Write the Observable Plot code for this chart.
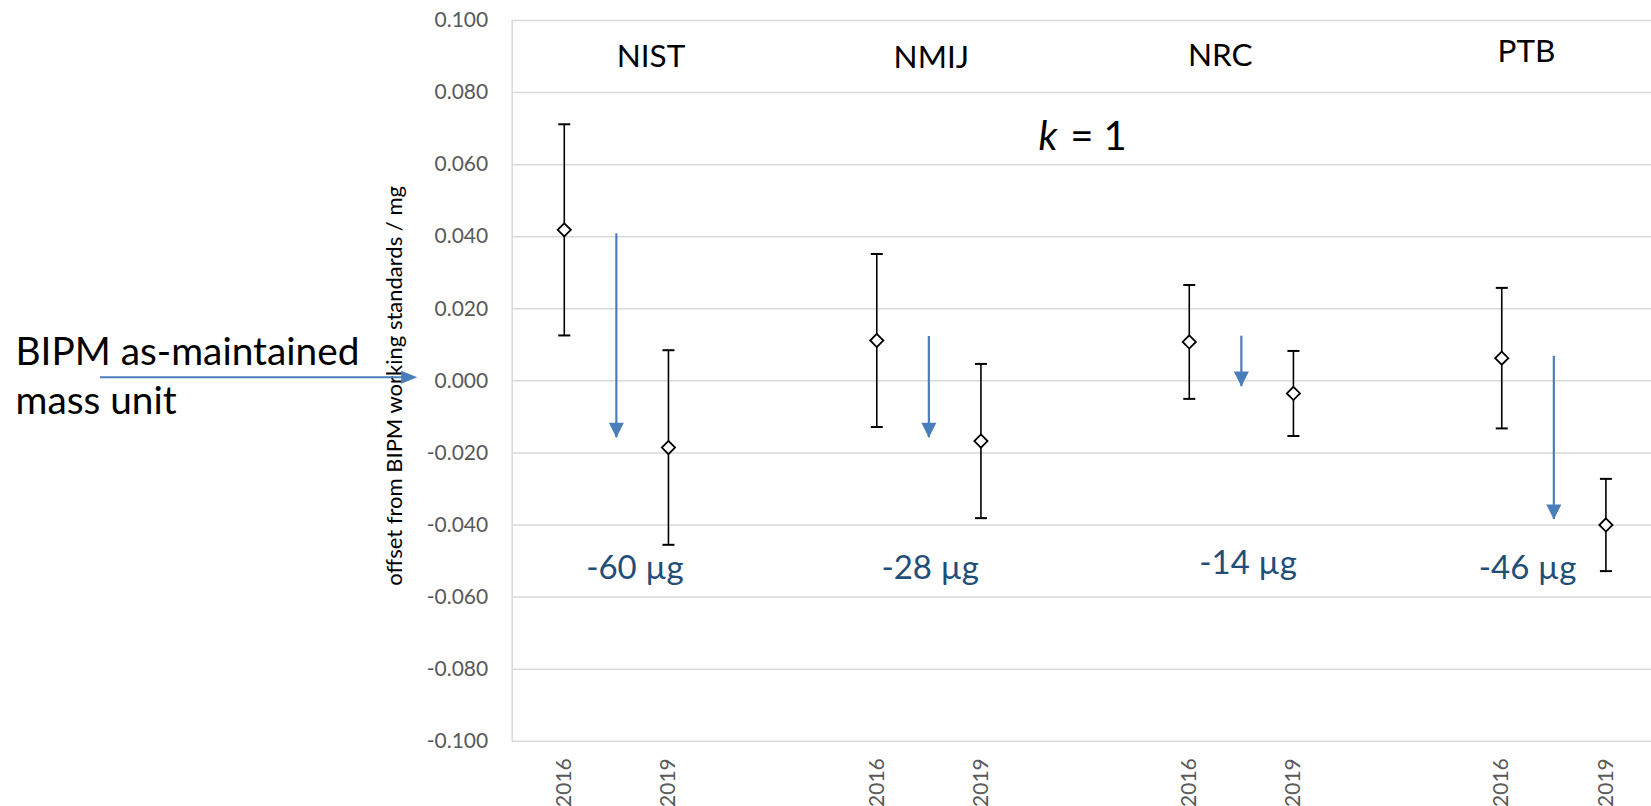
<!DOCTYPE html>
<html><head><meta charset="utf-8">
<script src="https://cdn.jsdelivr.net/npm/d3@7"></script>
<script src="https://cdn.jsdelivr.net/npm/@observablehq/plot@0.6"></script>
<style>
html,body{margin:0;padding:0;background:#fff;overflow:hidden;}
#chart svg{display:block;}
</style></head><body><div id="chart"></div>
<script>
// ---- data ----
const institutes = ["NIST", "NMIJ", "NRC", "PTB"];
const years = [2016, 2019];
const offset2016 = [0.0419, 0.0112, 0.0108, 0.0063];
const uncertainty2016 = [0.0293, 0.0240, 0.0158, 0.0195];
const offset2019 = [-0.0185, -0.0167, -0.0035, -0.0400];
const uncertainty2019 = [0.0270, 0.0214, 0.0118, 0.0128];
const shiftStart = [0.0408, 0.0123, 0.0124, 0.0068];
const shiftEnd = [-0.0158, -0.0158, -0.0016, -0.0385];
const shiftLabels = ["-60 µg", "-28 µg", "-14 µg", "-46 µg"];
const yTickValues = [-0.100, -0.080, -0.060, -0.040, -0.020, 0.000, 0.020, 0.040, 0.060, 0.080, 0.100];
const yTitle = "offset from BIPM working standards / mg";
const unitLabel = "BIPM as-maintained\nmass unit";

// ---- layout (slot positions on the x scale; annotations) ----
const groupSize = 6;
const slot = (i, k) => i * groupSize + 1 + k; // k: 0 = 2016, 1 = arrow, 2 = 2019
const nameX = [2.665, 8.047, 13.594, 19.476], nameY = [0.0870, 0.0869, 0.0875, 0.0884];
const shiftX = [2.357, 8.026, 14.13, 19.495], shiftY = [-0.0549, -0.0549, -0.0536, -0.0549];

const points = institutes.flatMap((inst, i) => [
  {inst, year: years[0], x: slot(i, 0), v: offset2016[i], u: uncertainty2016[i]},
  {inst, year: years[1], x: slot(i, 2), v: offset2019[i], u: uncertainty2019[i]}
]);
const shifts = institutes.map((inst, i) => ({inst, x: slot(i, 1), y1: shiftStart[i], y2: shiftEnd[i], label: shiftLabels[i], lx: shiftX[i], ly: shiftY[i]}));
const tickPositions = points.map(p => p.x);
const tickYear = new Map(points.map(p => [p.x, String(p.year)]));

const blue = "#4A7EBB", grid = "#d9d9d9", navy = "#1F4E79";
const diamond = {draw(c) { const r = 6.6; c.moveTo(0, -r); c.lineTo(r, 0); c.lineTo(0, r); c.lineTo(-r, 0); c.closePath(); }};
const cap = {draw(c) { c.moveTo(-6, 0); c.lineTo(6, 0); }};
const headDown = {draw(c) { c.moveTo(0, 0); c.lineTo(-7.5, -15); c.lineTo(7.5, -15); c.closePath(); }};
const headRight = {draw(c) { c.moveTo(0, 0); c.lineTo(-16, -6.5); c.lineTo(-16, 6.5); c.closePath(); }};

const chart = Plot.plot({
  width: 1651, height: 806,
  marginLeft: 511.7, marginRight: 0, marginTop: 20, marginBottom: 65.3,
  style: {fontFamily: "Lato, sans-serif", fontSize: "21px", color: "#595959", background: "white", overflow: "visible"},
  x: {domain: [0, 22], range: [511.7, 1657.5], ticks: tickPositions, tickFormat: d => tickYear.get(d) ?? "", tickRotate: -90, tickSize: 0, tickPadding: 17, label: null},
  y: {domain: [-0.1, 0.1], ticks: yTickValues, tickFormat: d => d.toFixed(3), tickSize: 0, tickPadding: 24, label: null},
  marks: [
    Plot.ruleY(yTickValues, {stroke: grid, strokeWidth: 1.5}),
    Plot.ruleX([0], {stroke: grid, strokeWidth: 1.5}),
    // error bars
    Plot.ruleX(points, {x: "x", y1: d => d.v - d.u, y2: d => d.v + d.u, stroke: "black", strokeWidth: 1.6}),
    Plot.dot(points, {x: "x", y: d => d.v - d.u, symbol: cap, fill: "none", stroke: "black", strokeWidth: 2}),
    Plot.dot(points, {x: "x", y: d => d.v + d.u, symbol: cap, fill: "none", stroke: "black", strokeWidth: 2}),
    Plot.dot(points, {x: "x", y: "v", symbol: diamond, fill: "white", stroke: "black", strokeWidth: 1.8}),
    // shift arrows
    Plot.ruleX(shifts, {x: "x", y1: "y1", y2: "y2", stroke: blue, strokeWidth: 2.2}),
    Plot.dot(shifts, {x: "x", y: "y2", symbol: headDown, fill: blue, stroke: "none"}),
    Plot.text(shifts, {x: "lx", y: "ly", text: "label", lineAnchor: "bottom", fontSize: 33, fill: navy}),
    // institute names
    Plot.text(institutes, {x: (d, i) => nameX[i], y: (d, i) => nameY[i], text: d => d, lineAnchor: "bottom", fontSize: 31.5, fill: "black"}),
    // coverage factor
    Plot.text(["k"], {x: 10.106, y: 0.0641, text: d => d, textAnchor: "start", lineAnchor: "bottom", fontSize: 40, fontStyle: "italic", fill: "black"}),
    Plot.text(["= 1"], {x: 10.713, y: 0.0641, text: d => d, textAnchor: "start", lineAnchor: "bottom", fontSize: 40, fill: "black"}),
    // y title
    Plot.text([yTitle], {frameAnchor: "left", dx: -117.7, dy: 5, rotate: -90, text: d => d, textAnchor: "middle", fontSize: 22, fill: "black"}),
    // unit annotation
    Plot.ruleY([0.001], {x1: -7.905, x2: -2.1, stroke: blue, strokeWidth: 2}),
    Plot.dot([0.001], {x: -1.824, y: d => d, symbol: headRight, fill: blue, stroke: "none"}),
    Plot.text([unitLabel], {x: -9.537, y: -0.00916, text: d => d, textAnchor: "start", lineAnchor: "bottom", lineHeight: 1.25, fontSize: 38.8, fill: "black"})
  ]
});
document.getElementById("chart").append(chart);
</script>
</body></html>
